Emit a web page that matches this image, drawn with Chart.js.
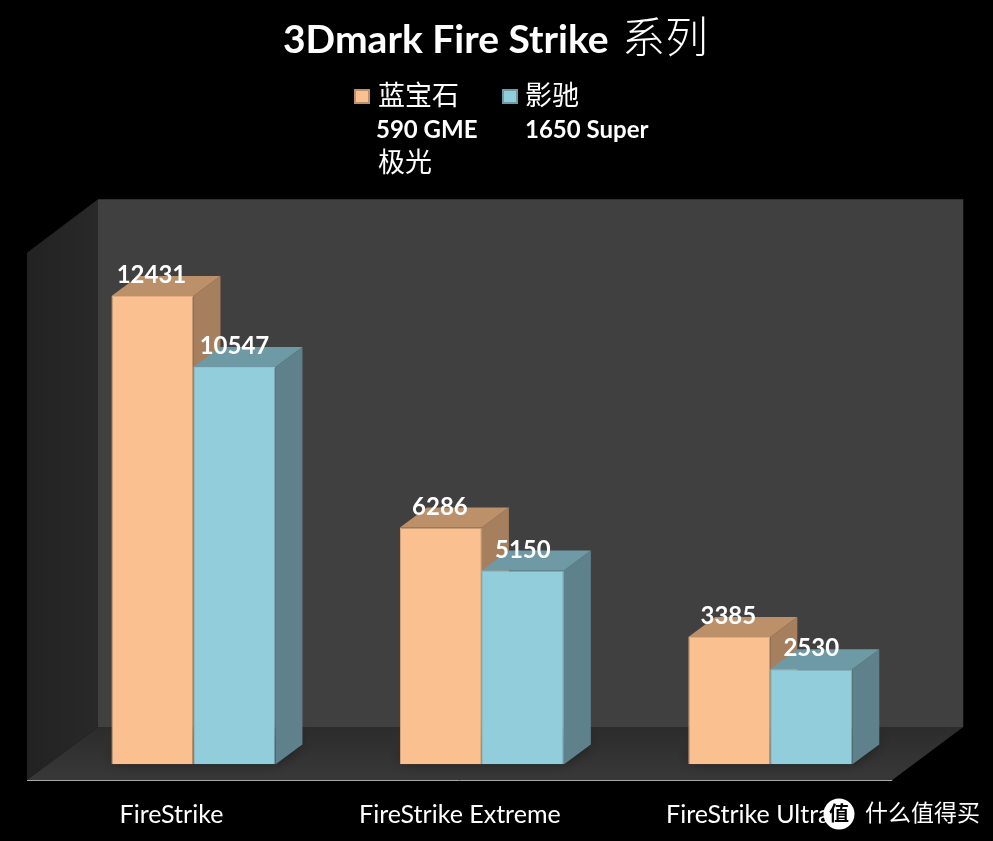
<!DOCTYPE html>
<html>
<head>
<meta charset="utf-8">
<title>3Dmark Fire Strike 系列</title>
<style>
	html, body { margin: 0; padding: 0; background: #000; }
	canvas { display: block; }
</style>
<script src="https://cdn.jsdelivr.net/npm/chart.js@4"></script>
</head>
<body>
<canvas id="chart" width="993" height="841"></canvas>
<script>
const titleLatin = '3Dmark Fire Strike';
const titleCjk = '系列';
const categories = ['FireStrike', 'FireStrike Extreme', 'FireStrike Ultra'];
const sapphire = [12431, 6286, 3385];
const galax = [10547, 5150, 2530];
const legendLines = [
	['蓝宝石', '590 GME', '极光'],
	['影驰', '1650 Super']
];
const watermarkText = '什么值得买';

const FONT = 'Lato, "Noto Sans CJK SC", sans-serif';

// colours for front, top and side of each series
const faces = [
	{ front: '#FAC08F', border: '#E2AC80', top: '#BC9069', side: '#A67F5F' },
	{ front: '#92CDDC', border: '#8AC6D6', top: '#6E9AA6', side: '#5F818B' }
];

function poly(ctx, pts, fill) {
	ctx.beginPath();
	pts.forEach(function (p, i) {
		if (i === 0) ctx.moveTo(p[0], p[1]);
		else ctx.lineTo(p[0], p[1]);
	});
	ctx.closePath();
	ctx.fillStyle = fill;
	ctx.fill();
}

// back wall, left wall and floor of the fake 3d box
const box3d = {
	id: 'box3d',
	beforeDatasetsDraw(chart) {
		const ctx = chart.ctx;
		const a = chart.chartArea;
		const backX = 48.75, backY = 37.5;
		const frontX = 22.25, frontY = 15.5;
		const l = a.left + backX, r = a.right + backX, t = a.top - backY, b = a.bottom - backY;
		const fl = a.left - frontX, fr = a.right - frontX, fb = a.bottom + frontY;
		const ft = t + 53.5;

		ctx.save();
		poly(ctx, [[l, t], [r, t], [r, b], [l, b]], '#404040');

		let g = ctx.createLinearGradient(fl, 0, l, 0);
		g.addColorStop(0, '#222222');
		g.addColorStop(1, '#292929');
		poly(ctx, [[fl, ft], [l, t], [l, b], [fl, fb]], g);

		g = ctx.createLinearGradient(0, b, 0, fb);
		g.addColorStop(0, '#2c2c2c');
		g.addColorStop(1, '#383838');
		poly(ctx, [[l, b], [r, b], [fr, fb], [fl, fb]], g);

		// front edge of the floor
		ctx.strokeStyle = '#a6a6a6';
		ctx.lineWidth = 1;
		ctx.beginPath();
		ctx.moveTo(fl, fb + 0.5);
		ctx.lineTo(fr, fb + 0.5);
		ctx.stroke();

		const dx = 27, dy = 20;

		// soft shadows on the floor, the footprint itself ends up behind the bars
		const first = chart.getDatasetMeta(0).data;
		const second = chart.getDatasetMeta(1).data;
		first.forEach(function (bar, i) {
			const x1 = bar.x - bar.width / 2;
			const x2 = second[i].x + second[i].width / 2;
			const y = bar.base;
			ctx.save();
			ctx.shadowColor = 'rgba(0,0,0,0.9)';
			ctx.shadowBlur = 16;
			ctx.shadowOffsetY = -6;
			poly(ctx, [[x1, y], [x1 + dx, y - dy], [x2 + dx, y - dy], [x2, y]], '#111');
			ctx.restore();
		});

		chart.data.datasets.forEach(function (ds, n) {
			const f = faces[n];
			chart.getDatasetMeta(n).data.forEach(function (bar) {
				const x1 = bar.x - bar.width / 2, x2 = bar.x + bar.width / 2;
				poly(ctx, [[x2, bar.y], [x2 + dx, bar.y - dy], [x2 + dx, bar.base - dy], [x2, bar.base]], f.side);
				poly(ctx, [[x1, bar.y], [x1 + dx, bar.y - dy], [x2 + dx, bar.y - dy], [x2, bar.y]], f.top);
			});
		});
		ctx.restore();
	}
};

// title, value labels, legend and watermark
const overlays = {
	id: 'overlays',
	afterDatasetsDraw(chart) {
		const ctx = chart.ctx;
		ctx.save();
		ctx.font = 'bold 24px ' + FONT;
		ctx.fillStyle = '#fff';
		ctx.textAlign = 'center';
		ctx.textBaseline = 'middle';
		chart.data.datasets.forEach(function (ds, n) {
			chart.getDatasetMeta(n).data.forEach(function (bar, i) {
				ctx.fillText(ds.data[i], bar.x - 1 + n, bar.y - 20.5);
			});
		});
		ctx.restore();
	},
	afterDraw(chart) {
		const ctx = chart.ctx;
		ctx.save();
		ctx.textBaseline = 'middle';
		ctx.textAlign = 'left';
		ctx.fillStyle = '#fff';

		// title, latin part is bold and the two hanzi are larger and thin
		ctx.font = 'bold 39px ' + FONT;
		ctx.fillText(titleLatin, 283, 40);
		ctx.font = '300 43px ' + FONT;
		ctx.fillText(titleCjk, 622, 39);

		// legend
		const swatchX = [354, 502], rowY = [96, 130, 163];
		const textX = [[378, 376, 378], [525, 525]];
		legendLines.forEach(function (lines, n) {
			ctx.fillStyle = faces[n].top;
			ctx.fillRect(swatchX[n], 89, 16, 15);
			ctx.fillStyle = faces[n].front;
			ctx.fillRect(swatchX[n] + 2, 91, 12, 11);
			ctx.fillStyle = '#fff';
			lines.forEach(function (line, i) {
				ctx.font = (i === 1 ? 'bold 24px ' : '27px ') + FONT;
				ctx.fillText(line, textX[n][i], rowY[i]);
			});
		});

		// watermark
		ctx.beginPath();
		ctx.arc(839, 814, 15.5, 0, Math.PI * 2);
		ctx.fillStyle = '#fff';
		ctx.fill();
		ctx.fillStyle = '#000';
		ctx.textAlign = 'center';
		ctx.font = 'bold 20px ' + FONT;
		ctx.fillText('值', 839, 815);
		ctx.fillStyle = '#fff';
		ctx.textAlign = 'left';
		ctx.font = '23px ' + FONT;
		ctx.fillText(watermarkText, 865, 814);
		ctx.restore();
	}
};

const chart = new Chart(document.getElementById('chart'), {
	type: 'bar',
	data: {
		labels: categories,
		datasets: [
			{ label: legendLines[0].join(' '), data: sapphire, backgroundColor: faces[0].front, borderColor: faces[0].border, borderWidth: 1 },
			{ label: legendLines[1].join(' '), data: galax, backgroundColor: faces[1].front, borderColor: faces[1].border, borderWidth: 1 }
		]
	},
	plugins: [box3d, overlays],
	options: {
		responsive: false,
		animation: false,
		layout: { padding: { left: 49.25, right: 78.5, top: 236.84, bottom: 0 } },
		datasets: { bar: { categoryPercentage: 0.5685, barPercentage: 1 } },
		plugins: {
			legend: { display: false },
			tooltip: { enabled: false },
			title: { display: false }
		},
		scales: {
			x: {
				grid: { display: false },
				border: { display: false },
				afterFit(scale) { scale.height = 76.5; },
				ticks: {
					color: '#fff',
					font: { family: FONT, size: 25 },
					padding: 27.5,
					labelOffset: -22,
					autoSkip: false,
					maxRotation: 0
				}
			},
			y: { display: false, min: 0, max: 14000 }
		}
	}
});
</script>
</body>
</html>
